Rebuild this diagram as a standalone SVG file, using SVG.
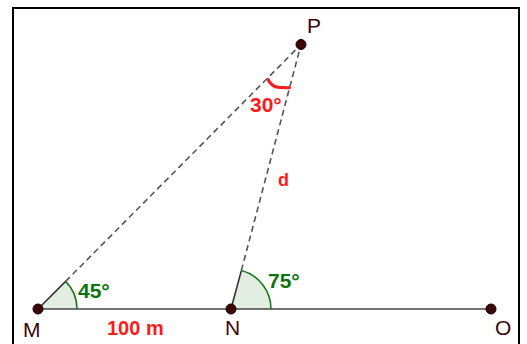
<svg xmlns="http://www.w3.org/2000/svg" width="527" height="344" viewBox="0 0 527 344">
<style>
.lbl{font-family:"Liberation Sans",Arial,sans-serif;font-size:21px;fill:#3d0505}
.ang{font-family:"Liberation Sans",Arial,sans-serif;font-weight:bold;font-size:21px}
.grn{fill:#0a740a}
.red{fill:#ff1a1a}
.dot{fill:#3d0505;stroke:#1a0000;stroke-width:1}
.seg{stroke:#444;stroke-width:1.6;fill:none}
.dash{stroke:#555;stroke-width:1.6;fill:none;stroke-dasharray:6,4}
.sector{fill:#e2eee2;stroke:none}
.arc{fill:none;stroke:#1a7a1a;stroke-width:1.6}
</style>
<rect x="0" y="0" width="527" height="344" fill="#fff"/>
<rect x="13" y="8" width="506" height="345" fill="none" stroke="#000" stroke-width="2"/>
<g id="angles">
  <g id="angle-M">
    <path class="sector" d="M38,309 L77,309 A39,39 0 0 0 65.6,281.4 Z"/>
    <path class="arc" d="M77,309 A39,39 0 0 0 65.6,281.4"/>
    <line x1="38" y1="309" x2="65.6" y2="281.4" stroke="#333" stroke-width="1.6"/>
  </g>
  <g id="angle-N">
    <path class="sector" d="M231,309 L271,309 A40,40 0 0 0 241.4,270.4 Z"/>
    <path class="arc" d="M271,309 A40,40 0 0 0 241.4,270.4"/>
    <line x1="231" y1="309" x2="241.4" y2="270.4" stroke="#333" stroke-width="1.6"/>
  </g>
  <g id="angle-P">
    <path d="M268,79.5 Q272,87.5 280,87.5 L289.5,87.8" fill="none" stroke="#ff1a1a" stroke-width="3" stroke-linecap="round"/>
  </g>
</g>
<g id="connectors">
  <line class="seg" x1="38" y1="309" x2="491" y2="309"/>
  <line class="dash" x1="65.6" y1="281.4" x2="301" y2="44.5"/>
  <line class="dash" x1="241.4" y1="270.4" x2="301" y2="44.5"/>
</g>
<g id="P"><circle class="dot" cx="301" cy="44.5" r="5"/><text class="lbl" x="307" y="33">P</text></g>
<g id="M"><circle class="dot" cx="38" cy="309" r="5"/><text class="lbl" x="23" y="337">M</text></g>
<g id="N"><circle class="dot" cx="231" cy="309" r="5"/><text class="lbl" x="225" y="335">N</text></g>
<g id="O"><circle class="dot" cx="491" cy="309" r="5"/><text class="lbl" x="495" y="335">O</text></g>
<g id="labels">
  <text class="ang grn" x="78" y="298">45°</text>
  <text class="ang grn" x="268" y="288">75°</text>
  <text class="ang red" x="250" y="112">30°</text>
  <text class="ang red" x="278" y="186" style="font-size:18px">d</text>
  <text class="ang red" x="107" y="335" style="font-size:20px">100 m</text>
</g>
</svg>
